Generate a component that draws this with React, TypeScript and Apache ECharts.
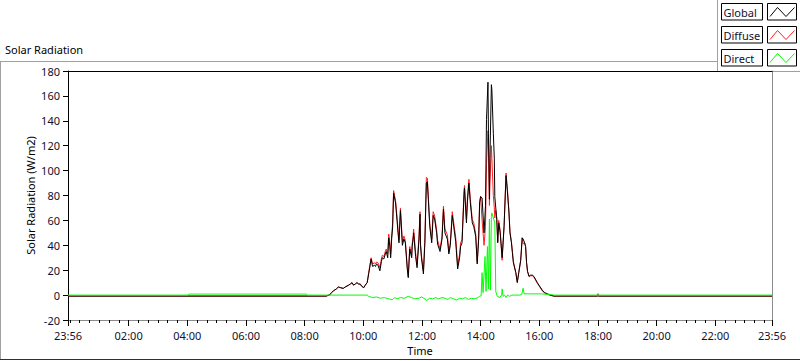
import React, { useEffect, useRef } from "react";
import * as echarts from "echarts";

// Time axis: minutes since midnight (23:56 of previous day = -4, 23:56 = 1436)
const tickLabelMinutes = [-4, 120, 240, 360, 480, 600, 720, 840, 960, 1080, 1200, 1320, 1436];
const tickLabels = ["23:56", "02:00", "04:00", "06:00", "08:00", "10:00", "12:00", "14:00", "16:00", "18:00", "20:00", "22:00", "23:56"];
const yTickLabels = [-20, 0, 20, 40, 60, 80, 100, 120, 140, 160, 180];

// Global and Diffuse share these sample times (minutes)
const globalTimes = [
  -4, 524, 531, 535, 539, 545, 549, 553, 559, 563,
  570, 574, 577, 580, 584, 587, 590, 594, 597, 601,
  604, 608, 611, 616, 619, 623, 625, 627, 630, 634,
  637, 639, 642, 645, 647, 650, 652, 654, 656, 658,
  660, 662, 666, 669, 671, 673, 676, 680, 683, 686,
  690, 692, 695, 699, 700, 702, 703, 707, 710, 714,
  716, 717, 719, 723, 726, 729, 731, 733, 736, 740,
  743, 746, 750, 752, 757, 761, 764, 767, 772, 775,
  778, 782, 785, 789, 793, 797, 799, 802, 806, 807,
  811, 813, 816, 819, 823, 826, 830, 833, 836, 838,
  840, 843, 847, 850, 852, 855, 856, 858, 859, 862,
  863, 866, 868, 869, 871, 873, 875, 877, 880, 884,
  888, 892, 895, 898, 900, 903, 905, 907, 912, 915,
  918, 922, 925, 927, 930, 932, 934, 936, 939, 942,
  946, 949, 956, 961, 966, 971, 977, 983, 990, 1078,
  1080, 1082, 1436,
];

const globalValues = [
  -0.8, -0.8, 0, 2, 3.4, 5, 6.5, 6, 5.4, 6.5,
  8, 9, 10, 8, 9, 10, 9, 8.8, 7, 6,
  8, 10, 17, 29, 23, 24, 23, 25, 24, 19.5,
  27, 30, 29, 33, 35, 30, 46, 40, 30, 45,
  54, 82, 74, 60, 50, 42, 68, 40, 45, 42,
  21, 14, 37, 30, 39, 45, 50, 31, 22, 45,
  65, 40, 30, 17, 42, 90, 91, 77, 55, 42,
  64, 61, 50, 41, 35, 45, 69, 50, 45, 33,
  40, 64, 55, 43, 21, 30, 39, 42, 80, 86,
  58, 75, 90, 74, 58, 55, 47, 25, 45, 74,
  79, 78, 50, 72, 141, 171, 130, 77, 110, 169,
  165, 130, 110, 79, 70, 61, 42, 58, 50, 30,
  55, 96, 82, 66, 50, 42, 34, 26, 18, 10,
  18, 28, 46, 45, 42, 39, 26, 19, 15, 16,
  16, 15, 10, 7, 4, 2, 1, 0, -0.8, -0.8,
  -0.8, -0.8, -0.8,
];

const diffuseValues = [
  -0.8, -0.8, 0.5, 2, 3.4, 5, 6.5, 6, 5.4, 6.5,
  8, 9, 10, 8, 9, 10, 9, 8.8, 7, 6,
  8, 10, 18, 30, 25, 26, 25, 26.5, 26, 22,
  29, 32, 31, 35, 37, 33, 49, 43, 33, 48,
  57.7, 84, 76, 63, 53, 44.5, 70, 42.5, 47.5, 44,
  22, 15, 39, 32, 41, 47.5, 53, 34, 24.5, 47.5,
  67, 41.5, 31.5, 19.5, 45, 94.5, 94, 80, 57.5, 45,
  67, 63.5, 52.5, 44, 37, 47, 71.5, 53, 48.5, 35,
  42, 67, 58, 46.5, 24, 32.5, 42, 44.5, 83, 88,
  61, 78, 93, 77, 60.5, 58, 49, 27, 46.5, 75,
  79.5, 60, 40, 55, 105, 132, 120, 72, 90, 120,
  110, 80, 70, 62, 68, 62, 43, 60, 52, 28,
  56, 98, 84, 67, 51, 43, 35, 27, 18, 10.5,
  18, 28, 46, 41, 42, 39, 26, 19, 15, 15.5,
  15.5, 14.5, 9.5, 6.5, 3.5, 1.5, 0.5, -0.3, -0.8, -0.8,
  1.2, -0.8, -0.8,
];

const directTimes = [
  -4, 242, 243, 484, 485, 608, 611, 619, 627, 635,
  643, 652, 660, 664, 669, 676, 684, 692, 699, 705,
  714, 719, 726, 729, 736, 742, 748, 754, 761, 767,
  773, 778, 785, 791, 797, 803, 809, 815, 821, 828,
  834, 838, 841, 843, 845, 849, 851, 854, 856, 858,
  860, 862, 863, 866, 869, 871, 874, 879, 883, 884,
  886, 889, 892, 895, 899, 904, 912, 920, 924, 927,
  929, 942, 963, 983, 990, 1436,
];

const directValues = [
  0, 0, 0.8, 0.8, 0, 0, -1, -2, -1.5, -2.5,
  -2, -3, -3.7, -2, -3, -2, -2.5, -1, -2, -3,
  -2.5, -1.5, -3, -4.5, -2.5, -3, -2, -3, -2, -2.5,
  -3.5, -2, -3, -4, -2.5, -3, -2, -3.5, -2.5, -3,
  -2, -1, -0.5, 18, 2, 31, 3, 39, 5, 61,
  4, 63, 66, 62, 58, 3, -1, -2, 0, 5,
  -1, 0, -2, 0, -1, 0, 0, 0, 0.5, 5.5,
  1, 1, 1, 0.5, 0, 0,
];

const seriesNames = ["Global", "Diffuse", "Direct"];
const seriesColors = ["#000000", "#ff2020", "#00ff00"];

const FONT = "Noto Sans";
const FS = 11;
const LABEL_COLOR = "#101030";

function zip(t: number[], v: number[]) {
  return t.map((x, i) => [x, v[i]]);
}

export default function App() {
  const ref = useRef<HTMLDivElement>(null);

  useEffect(() => {
    if (!ref.current) return;
    const chart = echarts.init(ref.current, null, { renderer: "svg" });

    const minorTicks: number[] = [-4];
    for (let m = 0; m <= 1420; m += 20) minorTicks.push(m);
    minorTicks.push(1436);

    const labelFor = (v: number) => {
      const i = tickLabelMinutes.indexOf(Math.round(v));
      return i >= 0 ? tickLabels[i] : "";
    };

    const legendChildren: any[] = [
      {
        type: "rect",
        shape: { x: 717.5, y: -1, width: 90, height: 72.5 },
        style: { fill: "#ffffff", stroke: "#a0a0a0", lineWidth: 1 },
      },
    ];
    seriesNames.forEach((name, i) => {
      const y0 = 3.5 + i * 23;
      legendChildren.push(
        {
          type: "rect",
          shape: { x: 721.5, y: y0, width: 41, height: 16.5 },
          style: { fill: "#ffffff", stroke: "#000000", lineWidth: 1 },
        },
        {
          type: "text",
          x: 723.5,
          y: y0 + 8.5,
          style: {
            text: name,
            fill: LABEL_COLOR,
            font: `${FS}px "${FONT}"`,
            verticalAlign: "middle",
            align: "left",
          },
        },
        {
          type: "rect",
          shape: { x: 767.5, y: y0, width: 29, height: 16.5 },
          style: { fill: "#ffffff", stroke: "#000000", lineWidth: 1 },
        },
        {
          type: "polyline",
          shape: {
            points: [
              [770, y0 + 13],
              [777.5, y0 + 4],
              [786, y0 + 13],
              [794.5, y0 + 4],
            ],
          },
          style: { stroke: seriesColors[i], lineWidth: 1, fill: "none" },
        }
      );
    });

    const option: any = {
      animation: false,
      backgroundColor: "#ffffff",
      title: {
        text: "Solar Radiation",
        left: 5,
        top: 44,
        padding: 0,
        textStyle: { fontSize: FS, fontWeight: "normal", color: "#000", fontFamily: FONT },
      },
      grid: { left: 68, right: 28, top: 71, bottom: 40, containLabel: false },
      xAxis: [
        {
          type: "value",
          min: -4,
          max: 1436,
          position: "bottom",
          axisLine: { show: true, onZero: false, lineStyle: { color: "#8c8c8c", width: 1 } },
          axisTick: { show: true, customValues: minorTicks, length: 3, lineStyle: { color: "#000" } },
          axisLabel: {
            customValues: tickLabelMinutes,
            formatter: labelFor,
            margin: 10,
            color: LABEL_COLOR,
            fontSize: FS,
            fontFamily: FONT,
          },
          splitLine: { show: false },
          name: "Time",
          nameLocation: "middle",
          nameGap: 25,
          nameMoveOverlap: false,
          nameTextStyle: { color: "#000", fontSize: FS, fontFamily: FONT },
        },
        {
          type: "value",
          min: -4,
          max: 1436,
          position: "bottom",
          axisLine: { show: false, onZero: false },
          axisTick: { show: true, customValues: tickLabelMinutes, length: 6, lineStyle: { color: "#000" } },
          axisLabel: { show: false },
          splitLine: { show: false },
        },
        {
          type: "value",
          min: -4,
          max: 1436,
          position: "top",
          axisLine: { show: true, onZero: false, lineStyle: { color: "#000", width: 1 } },
          axisTick: { show: false },
          axisLabel: { show: false },
          splitLine: { show: false },
        },
      ],
      yAxis: [
        {
          type: "value",
          min: yTickLabels[0],
          max: yTickLabels[yTickLabels.length - 1],
          interval: 20,
          position: "left",
          axisLine: { show: true, onZero: false, lineStyle: { color: "#000", width: 1 } },
          axisTick: { show: true, length: 5, lineStyle: { color: "#000" } },
          axisLabel: { margin: 8, color: LABEL_COLOR, fontSize: FS, fontFamily: FONT },
          splitLine: { show: false },
          name: "Solar Radiation (W/m2)",
          nameLocation: "middle",
          nameGap: 32,
          nameMoveOverlap: false,
          nameTextStyle: { color: "#000", fontSize: FS, fontFamily: FONT },
        },
        {
          type: "value",
          min: yTickLabels[0],
          max: yTickLabels[yTickLabels.length - 1],
          interval: 20,
          position: "right",
          axisLine: { show: true, onZero: false, lineStyle: { color: "#8c8c8c", width: 1 } },
          axisTick: { show: false },
          axisLabel: { show: false },
          splitLine: { show: false },
        },
      ],
      series: [
        {
          name: "Diffuse",
          type: "line",
          data: zip(globalTimes, diffuseValues),
          showSymbol: false,
          symbol: "none",
          lineStyle: { color: seriesColors[1], width: 1 },
          itemStyle: { color: seriesColors[1] },
          z: 2,
        },
        {
          name: "Global",
          type: "line",
          data: zip(globalTimes, globalValues),
          showSymbol: false,
          symbol: "none",
          lineStyle: { color: seriesColors[0], width: 1 },
          itemStyle: { color: seriesColors[0] },
          z: 3,
        },
        {
          name: "Direct",
          type: "line",
          data: zip(directTimes, directValues),
          showSymbol: false,
          symbol: "none",
          lineStyle: { color: seriesColors[2], width: 1 },
          itemStyle: { color: seriesColors[2] },
          z: 4,
        },
      ],
      graphic: [
        {
          type: "line",
          shape: { x1: 0, y1: 61.5, x2: 717, y2: 61.5 },
          style: { stroke: "#a0a0a0", lineWidth: 1 },
          z: 50,
        },
        {
          type: "line",
          shape: { x1: 0.5, y1: 61.5, x2: 0.5, y2: 360 },
          style: { stroke: "#a0a0a0", lineWidth: 1 },
          z: 50,
        },
        {
          type: "line",
          shape: { x1: 0, y1: 359.5, x2: 800, y2: 359.5 },
          style: { stroke: "#303030", lineWidth: 1 },
          z: 50,
        },
        { type: "group", z: 100, children: legendChildren },
      ],
    };

    chart.setOption(option);
    return () => chart.dispose();
  }, []);

  return (
    <div
      ref={ref}
      style={{ position: "fixed", left: 0, top: 0, width: 800, height: 361, background: "#fff" }}
    />
  );
}
